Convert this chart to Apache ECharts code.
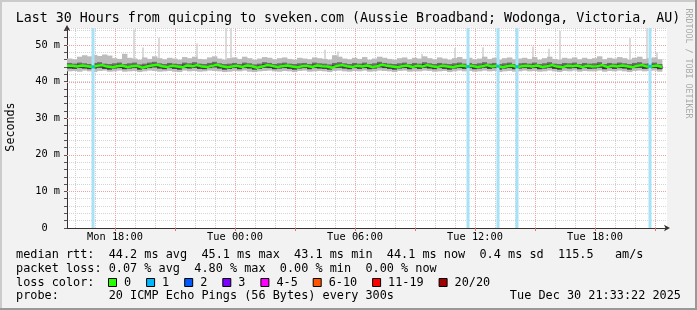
<!DOCTYPE html>
<html><head><meta charset="utf-8">
<script src="https://cdn.jsdelivr.net/npm/echarts@6/dist/echarts.min.js"></script>
<style>html,body{margin:0;padding:0;background:#f2f2f2}#c{width:697px;height:310px}</style>
</head><body><div id="c"></div>
<script>
// ---- data (hours since Mon 00:00) ----
const startHour = 15.6;     // Mon 15:36
const endHour = 45.6;       // Tue 21:36
const stepHours = 0.25;     // one column per 15 min
const probeStepHours = 300 / 3600;
const yMax = 54.64;

const median = [
44.3,44.1,44.4,44.2,44.0,44.3,44.5,44.1,43.9,44.2,
44.4,44.0,44.2,44.3,43.8,44.1,44.4,44.6,44.2,44.0,
44.3,44.1,43.9,44.4,44.2,44.5,44.1,44.0,44.3,44.6,
44.2,43.9,44.1,44.3,44.0,44.4,44.2,43.8,44.1,44.5,
44.3,44.0,44.2,44.4,44.1,43.9,44.2,44.3,44.0,44.4,
44.2,44.1,43.8,44.3,44.5,44.2,44.0,44.3,44.1,44.4,
44.0,44.2,44.6,44.3,44.1,43.9,44.2,44.4,44.0,44.3,
44.1,44.5,44.2,44.0,44.3,44.1,43.9,44.2,44.4,44.1,
44.3,44.0,44.2,44.5,44.1,44.3,43.9,44.2,44.4,44.0,
44.2,44.3,44.1,44.4,44.0,44.2,44.5,44.1,43.9,44.3,
44.2,44.4,44.0,44.3,44.1,44.2,44.5,44.0,44.3,44.1,
44.4,44.2,43.9,44.3,44.5,44.1,44.2,44.4,44.0];
const low = [
42.8,42.9,42.7,43.0,42.8,42.6,42.9,43.0,42.7,42.8,
43.0,42.7,42.8,42.9,42.6,42.8,43.0,42.9,42.7,42.8,
42.9,42.7,42.6,43.0,42.8,42.9,42.7,42.8,43.0,42.9,
42.8,42.6,42.7,42.9,42.8,43.0,42.7,42.6,42.8,42.9,
43.0,42.8,42.7,42.9,42.8,42.6,42.9,43.0,42.7,42.8,
42.9,42.8,42.6,42.9,43.0,42.8,42.7,42.9,42.8,43.0,
42.7,42.8,43.0,42.9,42.8,42.6,42.9,43.0,42.7,42.8,
42.8,43.0,42.9,42.7,42.8,42.9,42.6,42.8,43.0,42.8,
42.9,42.7,42.8,43.0,42.8,42.9,42.6,42.8,42.9,42.7,
42.8,43.0,42.8,42.9,42.7,42.8,43.0,42.8,42.6,42.9,
42.8,43.0,42.7,42.9,42.8,42.8,43.0,42.7,42.9,42.8,
43.0,42.8,42.6,42.9,43.0,42.8,42.9,43.0,42.7];
const q1 = [
43.6,43.5,43.7,43.6,43.4,43.6,43.8,43.5,43.3,43.6,
43.7,43.4,43.6,43.7,43.3,43.5,43.7,43.9,43.6,43.4,
43.7,43.5,43.3,43.7,43.6,43.8,43.5,43.4,43.7,43.9,
43.6,43.3,43.5,43.7,43.4,43.7,43.6,43.3,43.5,43.8,
43.7,43.4,43.6,43.7,43.5,43.3,43.6,43.7,43.4,43.7,
43.6,43.5,43.3,43.7,43.8,43.6,43.4,43.7,43.5,43.7,
43.4,43.6,43.9,43.7,43.5,43.3,43.6,43.7,43.4,43.7,
43.5,43.8,43.6,43.4,43.7,43.5,43.3,43.6,43.7,43.5,
43.7,43.4,43.6,43.8,43.5,43.7,43.3,43.6,43.7,43.4,
43.6,43.7,43.5,43.7,43.4,43.6,43.8,43.5,43.3,43.7,
43.6,43.7,43.4,43.7,43.5,43.6,43.8,43.4,43.7,43.5,
43.7,43.6,43.3,43.7,43.8,43.5,43.6,43.7,43.4];
const q3 = [
45.1,44.9,45.2,45.0,44.8,45.1,45.3,44.9,44.8,45.0,
45.2,44.8,45.0,45.2,44.7,44.9,45.2,45.4,45.0,44.8,
45.1,44.9,44.8,45.2,45.0,45.3,44.9,44.8,45.1,45.4,
45.0,44.8,44.9,45.1,44.8,45.2,45.0,44.7,44.9,45.3,
45.1,44.8,45.0,45.2,44.9,44.8,45.0,45.1,44.8,45.2,
45.0,44.9,44.7,45.1,45.3,45.0,44.8,45.1,44.9,45.2,
44.8,45.0,45.4,45.1,44.9,44.8,45.0,45.2,44.8,45.1,
44.9,45.3,45.0,44.8,45.1,44.9,44.8,45.0,45.2,44.9,
45.1,44.8,45.0,45.3,44.9,45.1,44.8,45.0,45.2,44.8,
45.0,45.1,44.9,45.2,44.8,45.0,45.3,44.9,44.8,45.1,
45.0,45.2,44.8,45.1,44.9,45.0,45.3,44.8,45.1,44.9,
45.2,45.0,44.8,45.1,45.3,44.9,45.0,45.2,44.8];
const high = [
46.3,46.1,46.8,47.2,46.9,47.3,47.0,47.4,47.1,46.4,
46.2,47.6,46.5,46.3,46.0,46.6,46.2,46.9,46.4,46.1,
46.5,46.3,46.0,46.7,46.4,46.8,46.2,46.1,46.6,46.9,
46.3,46.0,46.4,46.6,46.2,46.8,46.4,46.0,46.3,46.7,
46.5,46.1,46.4,46.6,46.2,46.0,46.5,46.3,46.1,46.6,
46.4,46.2,46.0,47.2,46.8,46.3,46.1,46.5,46.2,46.7,
46.0,46.3,46.8,46.5,46.2,46.0,46.4,46.6,46.1,46.5,
46.3,46.9,46.4,46.1,46.6,46.3,46.0,46.4,46.7,46.2,
46.5,46.1,46.3,46.8,46.2,46.5,46.0,46.4,46.6,46.1,
46.3,46.5,46.2,46.7,46.0,46.4,46.8,46.2,46.0,46.5,
46.3,46.6,46.1,46.5,46.2,46.4,46.9,46.1,46.5,46.3,
46.7,46.4,46.0,46.5,46.8,46.2,46.4,46.6,46.1];

const spikeHours = [18.95, 19.4, 20.2, 22.1, 23.55, 23.8, 28.5, 29.15, 33.35, 35.0, 36.4, 38.9, 39.7, 40.25, 43.75, 44.6, 45.1];
const spikeTops  = [54.2, 49.3, 52.0, 50.4, 54.6, 54.6, 48.7, 48.2, 47.6, 49.2, 49.4, 49.6, 49.0, 53.9, 51.9, 54.6, 48.0];

const lossHours  = [16.9, 35.65, 37.15, 38.1, 44.75];
const lossMedian = [44.0, 44.1, 44.2, 44.1, 44.2];

const xLabelHours = [18, 24, 30, 36, 42];
const lossLegendLabels = ['0', '1', '2', '3', '4-5', '6-10', '11-19', '20/20'];
const lossLegendColors = ['#26ff00', '#00b8ff', '#0059ff', '#7e00ff', '#ff00ff', '#ff5500', '#ff0000', '#a10000'];

const titleText = 'Last 30 Hours from quicping to sveken.com (Aussie Broadband; Wodonga, Victoria, AU)';
const row1 = 'median rtt:  44.2 ms avg  45.1 ms max  43.1 ms min  44.1 ms now  0.4 ms sd  115.5   am/s';
const row2 = 'packet loss: 0.07 % avg  4.80 % max  0.00 % min  0.00 % now';
const row3 = 'loss color:';
const row4 = 'probe:       20 ICMP Echo Pings (56 Bytes) every 300s';
const stamp = 'Tue Dec 30 21:33:22 2025';

// ---- build ----
const MONO = "'DejaVu Sans Mono', monospace";
const LEG = '11.85px ' + MONO;
const pad = n => (n < 10 ? '0' : '') + n;
const smokeData = median.map((m, i) => [startHour + i * stepHours, low[i], q1[i], q3[i], high[i], m]);
const medData = median.map((m, i) => [startHour + i * stepHours, m]);
medData.push([startHour + median.length * stepHours, median[median.length - 1]]);
const spikeData = spikeHours.map((h, i) => [h, spikeTops[i]]);
const lossData = lossHours.map((h, i) => [h, lossMedian[i]]);

const hourLines = [], majorLines = [];
for (let h = Math.ceil(startHour); h <= endHour; h++) {
  if (h % 3 === 0) majorLines.push([h, 0]); else hourLines.push([h, 0]);
}
const majorY = [[startHour, 10], [startHour, 20], [startHour, 30], [startHour, 40], [startHour, 50]];

function vLine(color) {
  return function (params, api) {
    const h = api.value(0);
    const a = api.coord([h, 0]), b = api.coord([h, yMax]);
    const x = Math.round(a[0]) + 0.5;
    return {type: 'line', shape: {x1: x, y1: a[1], x2: x, y2: b[1]},
      style: {stroke: color, lineWidth: 1, lineDash: [1, 1]}};
  };
}

const charW = 7.1;
const graphics = [
  {type: 'rect', shape: {x: 0, y: 0, width: 697, height: 2}, style: {fill: '#cbcbcb'}, silent: true},
  {type: 'rect', shape: {x: 0, y: 0, width: 2, height: 310}, style: {fill: '#cbcbcb'}, silent: true},
  {type: 'rect', shape: {x: 695, y: 0, width: 2, height: 310}, style: {fill: '#999999'}, silent: true},
  {type: 'rect', shape: {x: 0, y: 308, width: 697, height: 2}, style: {fill: '#999999'}, silent: true},
  {type: 'text', x: 348, y: 18.5, style: {text: titleText, font: '13.3px ' + MONO, fill: '#000', align: 'center', verticalAlign: 'middle'}},
  {type: 'text', x: 688, y: 63.5, rotation: -Math.PI / 2, style: {text: 'RRDTOOL / TOBI OETIKER', font: '8.3px ' + MONO, fill: '#aaaaaa', align: 'center', verticalAlign: 'middle'}},
  {type: 'text', x: 11, y: 127, rotation: Math.PI / 2, style: {text: 'Seconds', font: '11.7px ' + MONO, fill: '#000', align: 'center', verticalAlign: 'middle'}},
  {type: 'text', x: 16, y: 254.5, style: {text: row1, font: LEG, fill: '#000', align: 'left', verticalAlign: 'middle'}},
  {type: 'text', x: 16, y: 268.5, style: {text: row2, font: LEG, fill: '#000', align: 'left', verticalAlign: 'middle'}},
  {type: 'text', x: 16, y: 282.5, style: {text: row3, font: LEG, fill: '#000', align: 'left', verticalAlign: 'middle'}},
  {type: 'text', x: 16, y: 296, style: {text: row4, font: LEG, fill: '#000', align: 'left', verticalAlign: 'middle'}},
  {type: 'text', x: 681, y: 296, style: {text: stamp, font: LEG, fill: '#000', align: 'right', verticalAlign: 'middle'}}
];
let sx = 108;
lossLegendLabels.forEach((lab, i) => {
  graphics.push({type: 'rect', shape: {x: sx + 0.5, y: 278.5, width: 8, height: 8},
    style: {fill: lossLegendColors[i], stroke: '#000', lineWidth: 1}});
  const lx = sx + 16;
  graphics.push({type: 'text', x: lx, y: 282.5, style: {text: lab, font: LEG, fill: '#000', align: 'left', verticalAlign: 'middle'}});
  sx = lx + lab.length * charW + 15;
});

const chart = echarts.init(document.getElementById('c'), null, {renderer: 'canvas', width: 697, height: 310});
chart.setOption({
  backgroundColor: '#f2f2f2',
  animation: false,
  grid: {left: 67, top: 28, width: 600, height: 200, containLabel: false, outerBoundsMode: 'none', backgroundColor: '#ffffff', show: true, borderWidth: 0},
  xAxis: {
    type: 'value', min: startHour, max: endHour,
    axisLine: {show: true, onZero: false, lineStyle: {color: '#3a3030', width: 1}, symbol: ['none', 'arrow'], symbolSize: [5, 6], symbolOffset: [0, 3]},
    axisTick: {show: true, customValues: majorLines.map(d => d[0]), length: 3, lineStyle: {color: '#e07070'}},
    axisLabel: {customValues: xLabelHours, fontFamily: MONO, fontSize: 10.3, color: '#000', margin: 4,
      formatter: v => (v < 24 ? 'Mon ' : 'Tue ') + pad(Math.round(v) % 24) + ':00'},
    splitLine: {show: false}
  },
  yAxis: {
    type: 'value', min: 0, max: yMax, interval: 2,
    axisLine: {show: true, onZero: false, lineStyle: {color: '#3a3030', width: 1}, symbol: ['none', 'arrow'], symbolSize: [5, 6], symbolOffset: [0, 3]},
    axisTick: {show: true, length: 3, lineStyle: {color: '#555'}},
    axisLabel: {fontFamily: MONO, fontSize: 10.3, color: '#000', margin: 7, showMaxLabel: false,
      formatter: v => (Math.abs(v % 10) < 1e-6 ? (v === 0 ? '0  ' : v + ' m') : '')},
    splitLine: {show: true, lineStyle: {color: '#d4d4d4', width: 1, type: [1, 1]}}
  },
  series: [
    {type: 'custom', name: 'hourGrid', data: hourLines, encode: {x: 0, y: 1}, renderItem: vLine('#cfcfcf'), silent: true, z: 1},
    {type: 'custom', name: 'majorGrid', data: majorLines, encode: {x: 0, y: 1}, renderItem: vLine('#f3a0a0'), silent: true, z: 1},
    {type: 'custom', name: 'majorYGrid', data: majorY, encode: {x: 0, y: 1}, silent: true, z: 1,
      renderItem: (params, api) => {
        const v = api.value(1);
        const a = api.coord([startHour, v]), b = api.coord([endHour, v]);
        const y = Math.round(a[1]) + 0.5;
        return {type: 'line', shape: {x1: a[0], y1: y, x2: b[0], y2: y}, style: {stroke: '#f3a0a0', lineWidth: 1, lineDash: [1, 1]}};
      }},
    {type: 'custom', name: 'spikes', data: spikeData, encode: {x: 0, y: 1}, silent: true, z: 2, clip: true,
      renderItem: (params, api) => {
        const h = api.value(0);
        const top = api.coord([h, api.value(1)]);
        const base = api.coord([h, 45]);
        const w = api.size([probeStepHours, 0])[0];
        return {type: 'rect', shape: {x: top[0] - w / 2, y: top[1], width: w, height: base[1] - top[1]}, style: {fill: '#d4d4d4'}};
      }},
    {type: 'custom', name: 'smoke', data: smokeData, encode: {x: 0, y: [1, 4]}, silent: true, z: 3, clip: true,
      renderItem: (params, api) => {
        const h = api.value(0);
        const w = api.size([stepHours, 0])[0] + 0.4;
        const pLo = api.coord([h, api.value(1)]), pQ1 = api.coord([h, api.value(2)]);
        const pQ3 = api.coord([h, api.value(3)]), pHi = api.coord([h, api.value(4)]);
        const pM = api.coord([h, api.value(5)]);
        return {type: 'group', children: [
          {type: 'rect', shape: {x: pLo[0], y: pHi[1], width: w, height: pLo[1] - pHi[1]}, style: {fill: '#bcbcbc'}},
          {type: 'rect', shape: {x: pLo[0], y: pQ3[1], width: w, height: pQ1[1] - pQ3[1]}, style: {fill: '#6c6c6c'}},
          {type: 'rect', shape: {x: pLo[0], y: pM[1] - 1, width: w, height: pQ1[1] - pM[1] + 1}, style: {fill: '#3c3c3c'}}
        ]};
      }},
    {type: 'custom', name: 'lossBars', data: lossData, encode: {x: 0, y: 1}, silent: true, z: 4, clip: true,
      renderItem: (params, api) => {
        const h = api.value(0);
        const a = api.coord([h, 0]), b = api.coord([h, yMax]);
        return {type: 'rect', shape: {x: a[0] - 1.5, y: b[1], width: 3, height: a[1] - b[1]}, style: {fill: '#a8e2f6'}};
      }},
    {type: 'line', name: 'median', data: medData, step: 'end', showSymbol: false, z: 5, clip: true,
      lineStyle: {color: '#2cff00', width: 2.5}, itemStyle: {color: '#2cff00'}},
    {type: 'scatter', name: 'lossMedian', data: lossData, symbol: 'rect', symbolSize: [3, 3], z: 6,
      itemStyle: {color: '#00b8ff'}}
  ],
  graphic: graphics
});
</script>
</body></html>
